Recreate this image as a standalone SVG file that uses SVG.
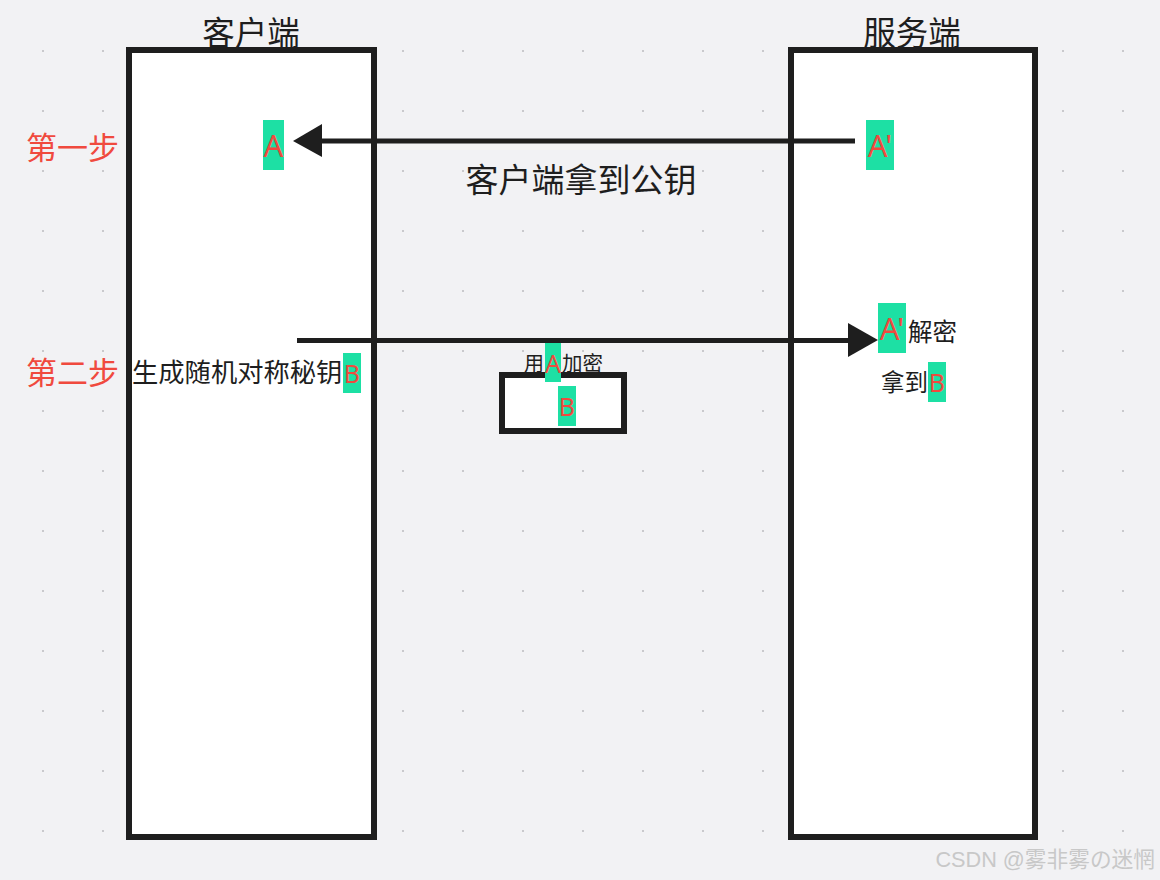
<svg xmlns="http://www.w3.org/2000/svg" width="1160" height="880" viewBox="0 0 1160 880">
<defs>
<pattern id="dots" x="42" y="50" width="60" height="60" patternUnits="userSpaceOnUse"><rect x="0" y="0" width="2" height="2" fill="#c9c9cc"/></pattern>
<style>
.box{fill:#fff;stroke:#1e1e1e;stroke-width:6}
.t{font-family:"Noto Sans","Noto Sans CJK SC",sans-serif;fill:#1e1e1e}
.r{font-family:"Noto Sans","Noto Sans CJK SC",sans-serif;fill:#f04a3e}
.hl{fill:#1de0a4}
.ln{stroke:#1e1e1e;stroke-width:5;fill:none}
.ah{fill:#1e1e1e}
</style>
</defs>
<rect width="1160" height="880" fill="#f2f2f4"/>
<rect width="1160" height="880" fill="url(#dots)"/>

<g id="client">
<rect class="box" x="129" y="50" width="245" height="787"/>
<text class="t" x="251" y="45" font-size="32.5" text-anchor="middle">客户端</text>
</g>
<g id="server">
<rect class="box" x="791" y="50" width="244" height="787"/>
<text class="t" x="912" y="45" font-size="32.5" text-anchor="middle">服务端</text>
</g>

<g id="step-labels">
<text class="r" x="26" y="159" font-size="31">第一步</text>
<text class="r" x="26" y="384" font-size="31">第二步</text>
</g>

<g id="node-A">
<rect class="hl" x="263" y="120" width="21" height="50"/>
<text class="r" x="273.5" y="157" font-size="31" text-anchor="middle">A</text>
</g>
<g id="node-A-prime">
<rect class="hl" x="866" y="120" width="28" height="50"/>
<text class="r" x="880" y="157" font-size="31" text-anchor="middle">A'</text>
</g>

<g id="gen-key">
<text class="t" x="132" y="382" font-size="26.3">生成随机对称秘钥</text>
<rect class="hl" x="343" y="353" width="18" height="40"/>
<text class="r" x="352" y="383" font-size="25" text-anchor="middle">B</text>
</g>

<g id="encrypted">
<rect class="box" x="502" y="375" width="122" height="56"/>
<rect class="hl" x="545" y="343" width="16" height="39"/>
<text class="t" x="524" y="371" font-size="20">用</text>
<text class="r" x="553" y="373" font-size="25" text-anchor="middle">A</text>
<text class="t" x="562" y="371" font-size="20.5">加密</text>
<rect class="hl" x="558" y="386" width="18" height="40"/>
<text class="r" x="567" y="416" font-size="25" text-anchor="middle">B</text>
</g>

<g id="decrypt">
<rect class="hl" x="878" y="303" width="28" height="50"/>
<text class="r" x="892" y="340" font-size="31" text-anchor="middle">A'</text>
<text class="t" x="908" y="341" font-size="24.5">解密</text>
<text class="t" x="881" y="391" font-size="23.5">拿到</text>
<rect class="hl" x="928" y="362" width="18" height="40"/>
<text class="r" x="937" y="392" font-size="25" text-anchor="middle">B</text>
</g>

<g id="connectors">
<line class="ln" x1="855" y1="141" x2="318" y2="141"/>
<polygon class="ah" points="293,141 322,124 322,157"/>
<text class="t" x="581" y="192" font-size="33" text-anchor="middle">客户端拿到公钥</text>
<line class="ln" x1="297" y1="340.5" x2="852" y2="340.5"/>
<polygon class="ah" points="878,340 848,323 848,357"/>
</g>

<text x="1155" y="867" font-size="21.7" text-anchor="end" font-family="'Liberation Sans','Noto Sans CJK SC',sans-serif" fill="#c8c8c8">CSDN @雾非雾の迷惘</text>
</svg>
